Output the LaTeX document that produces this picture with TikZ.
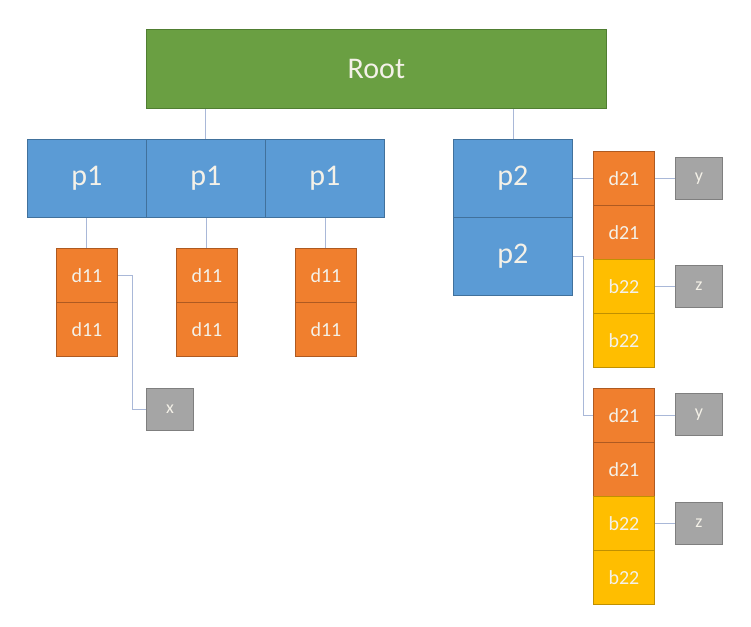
\documentclass[tikz,border=0pt]{standalone}
\usepackage{fontspec}
\setmainfont{Carlito}
\definecolor{grn}{HTML}{6A9F42}
\definecolor{grnb}{HTML}{507E32}
\definecolor{blu}{HTML}{5B9BD5}
\definecolor{blub}{HTML}{41719C}
\definecolor{org}{HTML}{F07F2E}
\definecolor{orgb}{HTML}{AE5A21}
\definecolor{yel}{HTML}{FFBE00}
\definecolor{yelb}{HTML}{C09000}
\definecolor{gry}{HTML}{A5A5A5}
\definecolor{gryb}{HTML}{7F7F7F}
\definecolor{lnk}{HTML}{A9B8D8}
\definecolor{txt}{HTML}{F4F1E8}
\tikzset{
  box/.style={draw, line width=0.8pt, text=txt, inner sep=0pt, anchor=north west},
  rootbox/.style={box, fill=grn, draw=grnb, minimum width=460pt, minimum height=79pt, font=\fontsize{30}{34}\selectfont},
  pbox/.style={box, fill=blu, draw=blub, minimum width=119pt, minimum height=78pt, font=\fontsize{30}{34}\selectfont},
  dbox/.style={box, fill=org, draw=orgb, minimum width=61pt, minimum height=54pt, font=\fontsize{20}{24}\selectfont},
  bbox/.style={box, fill=yel, draw=yelb, minimum width=61pt, minimum height=54pt, font=\fontsize{20}{24}\selectfont},
  gbox/.style={box, fill=gry, draw=gryb, minimum width=47pt, minimum height=42pt, font=\fontsize{18}{22}\selectfont},
  link/.style={draw=lnk, line width=1pt}
}
\begin{document}
\begin{tikzpicture}[x=1pt,y=-1pt]
\useasboundingbox (0,0) rectangle (751,626);
\fill[white] (0,0) rectangle (751,626);
\coordinate (r2) at (513,108);
\node[rootbox] (root) at (146,29) {Root};
\node[pbox] (pa) at (27,139) {p1};
\node[pbox] (pb) at (146,139) {p1};
\node[pbox] (pc) at (265,139) {p1};
\node[pbox] (pd) at (453,139) {p2};
\node[pbox] (pe) at (453,217) {p2};
% d11 stacks
\node[dbox] (a1) at (56,248) {d11};
\node[dbox] (a2) at (56,302) {d11};
\node[dbox] (b1) at (176,248) {d11};
\node[dbox] (b2) at (176,302) {d11};
\node[dbox] (c1) at (295,248) {d11};
\node[dbox] (c2) at (295,302) {d11};
\node[gbox] (gx) at (146,388) {x};
% right stacks
\node[dbox] (e1) at (593,151) {d21};
\node[dbox] (e2) at (593,205) {d21};
\node[bbox] (e3) at (593,259) {b22};
\node[bbox] (e4) at (593,313) {b22};
\node[gbox] (gy1) at (675,157) {y};
\node[gbox] (gz1) at (675,265) {z};
\node[dbox] (f1) at (593,388) {d21};
\node[dbox] (f2) at (593,442) {d21};
\node[bbox] (f3) at (593,496) {b22};
\node[bbox] (f4) at (593,550) {b22};
\node[gbox] (gy2) at (675,393) {y};
\node[gbox] (gz2) at (675,502) {z};
% connectors
\draw[link] (root.south -| pb.north) -- (pb.north);
\draw[link] (root.south -| r2) -- (pd.north -| r2);
\draw[link] (pa.south -| a1.north) -- (a1.north);
\draw[link] (pb.south -| b1.north) -- (b1.north);
\draw[link] (pc.south -| c1.north) -- (c1.north);
\draw[link] (a1.east) -- ++(15,0) |- (gx.west);
\draw[link] (pd.east) -- (pd.east -| e1.west);
\draw[link] (pe.east) -- ++(11,0) |- (f1.west);
\draw[link] (e1.east) -- (e1.east -| gy1.west);
\draw[link] (e3.east) -- (e3.east -| gz1.west);
\draw[link] (f1.east) -- (f1.east -| gy2.west);
\draw[link] (f3.east) -- (f3.east -| gz2.west);
\end{tikzpicture}
\end{document}
